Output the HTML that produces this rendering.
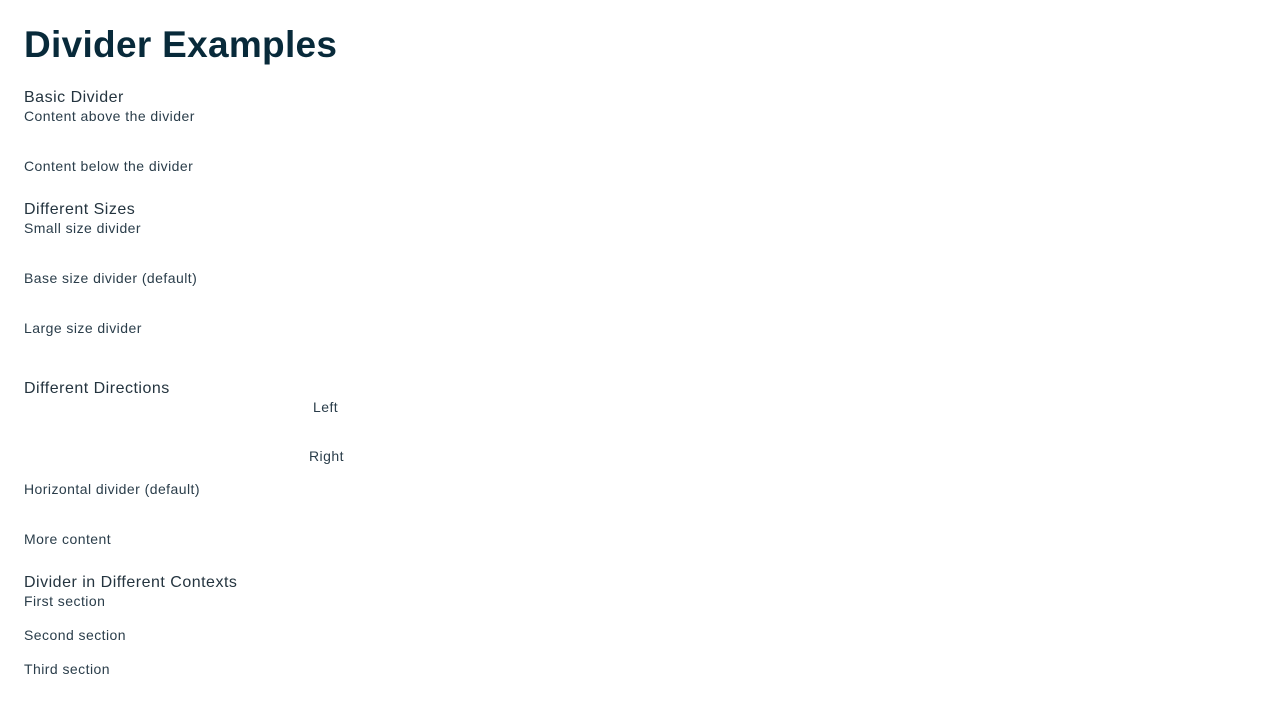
<!DOCTYPE html>
<html><head><meta charset="utf-8"><style>
body{margin:0;width:1280px;height:720px;background:#fff;font-family:"Liberation Sans",sans-serif;color:#2a3d4a;position:relative;overflow:hidden}
div{position:absolute;white-space:nowrap;line-height:1}
.t{font-size:37px;font-weight:bold;color:#082a3a;letter-spacing:0.3px}
.h{font-size:16px;color:#24343f;letter-spacing:0.5px}
.p{font-size:14px;letter-spacing:0.45px}
</style></head><body>
<div class="t" style="left:24px;top:26px">Divider Examples</div>
<div class="h" style="left:24px;top:90px">Basic Divider</div>
<div class="p" style="left:24px;top:109px">Content above the divider</div>
<div class="p" style="left:24px;top:159px">Content below the divider</div>
<div class="h" style="left:24px;top:202px">Different Sizes</div>
<div class="p" style="left:24px;top:221px">Small size divider</div>
<div class="p" style="left:24px;top:271px">Base size divider (default)</div>
<div class="p" style="left:24px;top:321px">Large size divider</div>
<div class="h" style="left:24px;top:381px">Different Directions</div>
<div class="p" style="left:313px;top:400px">Left</div>
<div class="p" style="left:309px;top:449px">Right</div>
<div class="p" style="left:24px;top:482px">Horizontal divider (default)</div>
<div class="p" style="left:24px;top:532px">More content</div>
<div class="h" style="left:24px;top:575px">Divider in Different Contexts</div>
<div class="p" style="left:24px;top:594px">First section</div>
<div class="p" style="left:24px;top:628px">Second section</div>
<div class="p" style="left:24px;top:662px">Third section</div>
</body></html>
